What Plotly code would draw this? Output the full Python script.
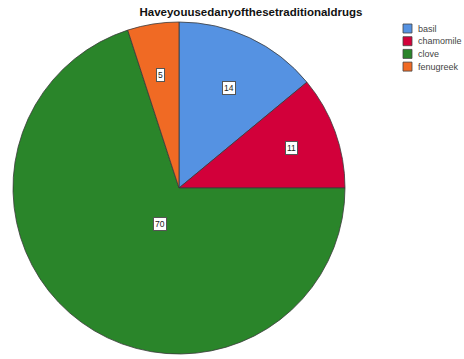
import math
import plotly.graph_objects as go

categories = ["basil", "chamomile", "clove", "fenugreek"]
values = [14, 11, 70, 5]
colors = ["#5592E2", "#D2003A", "#2A852A", "#F06A24"]
title = "Haveyouusedanyofthesetraditionaldrugs"

W, H = 464, 359
cx, cy, R = 179, 188, 166  # pie centre/radius in px (from top-left)

fig = go.Figure()
fig.add_trace(go.Pie(
    labels=categories, values=values, sort=False, direction="clockwise",
    rotation=0, marker=dict(colors=colors, line=dict(color="#3a3a3a", width=0.8)),
    textinfo="none", hoverinfo="label+value", showlegend=False,
    domain=dict(x=[(cx - R) / W, (cx + R) / W], y=[(H - cy - R) / H, (H - cy + R) / H]),
))

# value labels placed near each sector's centroid
total = sum(values)
cum = 0
for v in values:
    theta = v / total * 2 * math.pi
    mid = (cum + v / 2) / total * 2 * math.pi
    cum += v
    dist = 1.1 * 4 * R * math.sin(theta / 2) / (3 * theta)
    px = cx + dist * math.sin(mid)
    py = cy - dist * math.cos(mid)
    fig.add_annotation(
        x=px / W, y=1 - py / H, xref="paper", yref="paper", text=str(v),
        showarrow=False, font=dict(family="Liberation Sans, Arial", size=8.5, color="#222"),
        bgcolor="white", bordercolor="#555", borderwidth=1, borderpad=1,
    )

# legend drawn manually (compact SPSS-style)
lx, ly, step, sq = 403, 24, 12.7, 9
for i, (name, col) in enumerate(zip(categories, colors)):
    top = ly + i * step
    fig.add_shape(type="rect", xref="paper", yref="paper",
                  x0=lx / W, x1=(lx + sq) / W, y0=1 - (top + sq) / H, y1=1 - top / H,
                  fillcolor=col, line=dict(color="#444", width=0.8))
    fig.add_annotation(x=(lx + sq + 4) / W, y=1 - (top + sq / 2) / H, xref="paper", yref="paper",
                       text=name, showarrow=False, xanchor="left", yanchor="middle",
                       font=dict(family="Liberation Sans, Arial", size=9, color="#444"))

fig.update_layout(
    width=W, height=H, margin=dict(l=0, r=0, t=0, b=0),
    paper_bgcolor="white", plot_bgcolor="white", showlegend=False,
    title=dict(text="<b>" + title + "</b>", x=251 / W, xanchor="center", y=1 - 12 / H, yanchor="middle",
               font=dict(family="Liberation Sans, Arial", size=11.5, color="#111")),
)

fig.write_html("out.html", config={"displayModeBar": False},
               post_script="document.body.style.margin='0';document.body.style.overflow='hidden';")
